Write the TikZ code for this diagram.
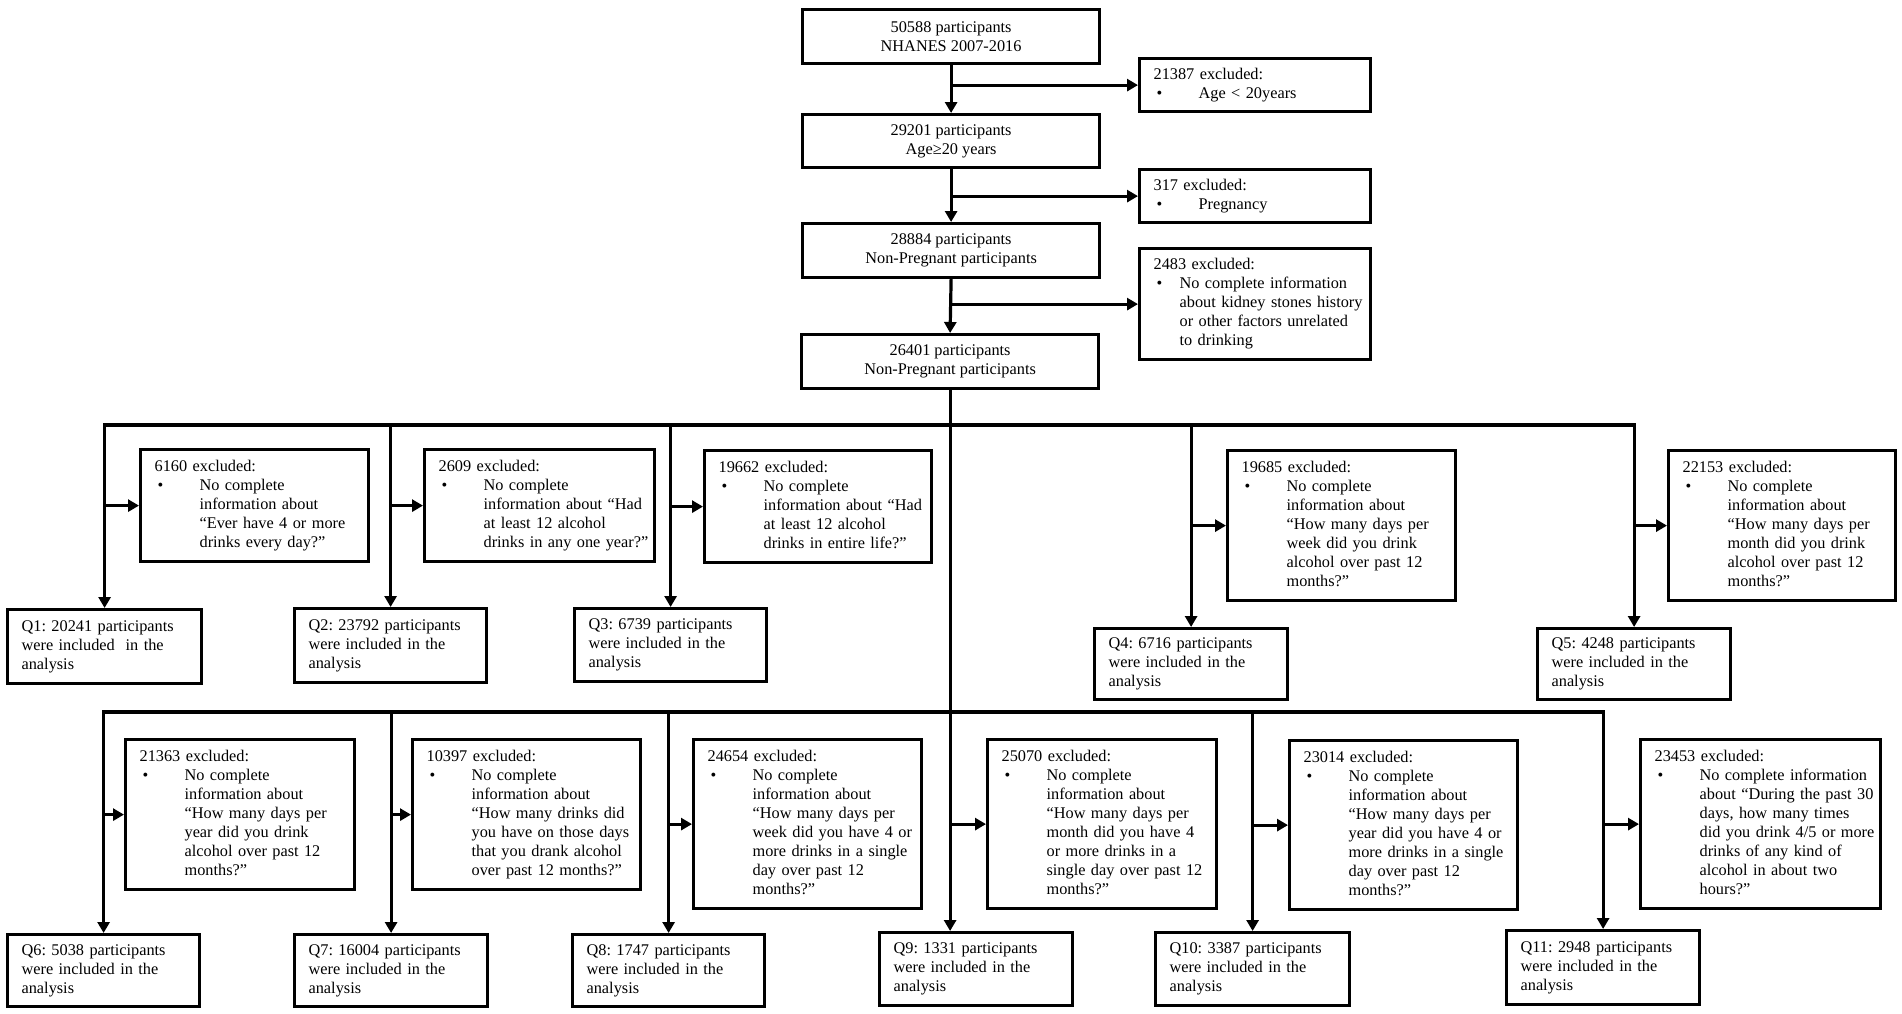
\documentclass[tikz,border=0pt]{standalone}
\usepackage{fontspec}
\setmainfont{Liberation Serif}
\usetikzlibrary{arrows.meta}
\frenchspacing
\newcommand{\exbul}{\hspace*{3pt}\makebox[42pt][l]{•}}
\newcommand{\exind}{\hspace*{45pt}}
\newcommand{\exbulb}{\hspace*{3pt}\makebox[23pt][l]{•}}
\newcommand{\exindb}{\hspace*{26pt}}
\newcommand{\exlines}[1]{\begin{tabular}{@{}l@{}}#1\end{tabular}}
\begin{document}
\frenchspacing
\begin{tikzpicture}[x=1pt,y=-1pt,
  every node/.style={font=\fontsize{16.3}{19}\selectfont\frenchspacing},
  bx/.style={draw, line width=3.2pt, anchor=north west, inner xsep=14pt, inner ysep=0pt, align=left},
  cbx/.style={draw, line width=3.2pt, anchor=north west, inner sep=0pt, align=center},
  ln/.style={line width=3.2pt},
  bus/.style={line width=3.2pt, line cap=rect},
  arr/.style={line width=3.2pt, -{Triangle[length=11pt,width=12pt]}}
]
\useasboundingbox (0,0) rectangle (1902,1013);

% main chain
\node[cbx, minimum width=297pt, minimum height=54pt] (b0) at (801,8) {50588 participants\\NHANES 2007-2016};
\node[cbx, minimum width=297pt, minimum height=53pt] (b1) at (801,113) {29201 participants\\Age≥20 years};
\node[cbx, minimum width=297pt, minimum height=54pt] (b2) at (801,222) {28884 participants\\Non-Pregnant participants};
\node[cbx, minimum width=297pt, minimum height=54pt] (b3) at (800,333) {26401 participants\\Non-Pregnant participants};

\node[bx, text width=203pt, minimum height=53pt] (e1) at (1138,57) {\exlines{21387 excluded:\\\exbul Age < 20years}};
\node[bx, text width=203pt, minimum height=53pt] (e2) at (1138,168) {\exlines{317 excluded:\\\exbul Pregnancy}};
\node[bx, text width=203pt, minimum height=111pt] (e3) at (1138,247) {\exlines{2483 excluded:\\\exbulb No complete information\\\exindb about kidney stones history\\\exindb or other factors unrelated\\\exindb to drinking}};

% row 1 exclusions
\node[bx, text width=200pt, minimum height=112pt] (x1) at (139,448) {\exlines{6160 excluded:\\\exbul No complete\\\exind information about\\\exind “Ever have 4 or more\\\exind drinks every day?”}};
\node[bx, text width=202pt, minimum height=112pt] (x2) at (423,448) {\exlines{2609 excluded:\\\exbul No complete\\\exind information about “Had\\\exind at least 12 alcohol\\\exind drinks in any one year?”}};
\node[bx, text width=199pt, minimum height=112pt] (x3) at (703,449) {\exlines{19662 excluded:\\\exbul No complete\\\exind information about “Had\\\exind at least 12 alcohol\\\exind drinks in entire life?”}};
\node[bx, text width=200pt, minimum height=150pt] (x4) at (1226,449) {\exlines{19685 excluded:\\\exbul No complete\\\exind information about\\\exind “How many days per\\\exind week did you drink\\\exind alcohol over past 12\\\exind months?”}};
\node[bx, text width=199pt, minimum height=150pt] (x5) at (1667,449) {\exlines{22153 excluded:\\\exbul No complete\\\exind information about\\\exind “How many days per\\\exind month did you drink\\\exind alcohol over past 12\\\exind months?”}};

% row 1 results
\node[bx, text width=166pt, minimum height=74pt] (q1) at (6,608) {\exlines{Q1: 20241 participants\\were included\ \ in the\\analysis}};
\node[bx, text width=164pt, minimum height=74pt] (q2) at (293,607) {\exlines{Q2: 23792 participants\\were included in the\\analysis}};
\node[bx, text width=164pt, minimum height=73pt] (q3) at (573,607) {\exlines{Q3: 6739 participants\\were included in the\\analysis}};
\node[bx, text width=165pt, minimum height=71pt] (q4) at (1093,627) {\exlines{Q4: 6716 participants\\were included in the\\analysis}};
\node[bx, text width=165pt, minimum height=71pt] (q5) at (1536,627) {\exlines{Q5: 4248 participants\\were included in the\\analysis}};

% row 2 exclusions
\node[bx, text width=201pt, minimum height=150pt] (y1) at (124,738) {\exlines{21363 excluded:\\\exbul No complete\\\exind information about\\\exind “How many days per\\\exind year did you drink\\\exind alcohol over past 12\\\exind months?”}};
\node[bx, text width=200pt, minimum height=150pt] (y2) at (411,738) {\exlines{10397 excluded:\\\exbul No complete\\\exind information about\\\exind “How many drinks did\\\exind you have on those days\\\exind that you drank alcohol\\\exind over past 12 months?”}};
\node[bx, text width=200pt, minimum height=169pt] (y3) at (692,738) {\exlines{24654 excluded:\\\exbul No complete\\\exind information about\\\exind “How many days per\\\exind week did you have 4 or\\\exind more drinks in a single\\\exind day over past 12\\\exind months?”}};
\node[bx, text width=201pt, minimum height=169pt] (y4) at (986,738) {\exlines{25070 excluded:\\\exbul No complete\\\exind information about\\\exind “How many days per\\\exind month did you have 4\\\exind or more drinks in a\\\exind single day over past 12\\\exind months?”}};
\node[bx, text width=200pt, minimum height=169pt] (y5) at (1288,739) {\exlines{23014 excluded:\\\exbul No complete\\\exind information about\\\exind “How many days per\\\exind year did you have 4 or\\\exind more drinks in a single\\\exind day over past 12\\\exind months?”}};
\node[bx, text width=212pt, minimum height=169pt] (y6) at (1639,738) {\exlines{23453 excluded:\\\exbul No complete information\\\exind about “During the past 30\\\exind days, how many times\\\exind did you drink 4/5 or more\\\exind drinks of any kind of\\\exind alcohol in about two\\\exind hours?”}};

% row 2 results
\node[bx, text width=164pt, minimum height=72pt] (q6) at (6,933) {\exlines{Q6: 5038 participants\\were included in the\\analysis}};
\node[bx, text width=165pt, minimum height=72pt] (q7) at (293,933) {\exlines{Q7: 16004 participants\\were included in the\\analysis}};
\node[bx, text width=164pt, minimum height=72pt] (q8) at (571,933) {\exlines{Q8: 1747 participants\\were included in the\\analysis}};
\node[bx, text width=165pt, minimum height=73pt] (q9) at (878,931) {\exlines{Q9: 1331 participants\\were included in the\\analysis}};
\node[bx, text width=166pt, minimum height=73pt] (q10) at (1154,931) {\exlines{Q10: 3387 participants\\were included in the\\analysis}};
\node[bx, text width=165pt, minimum height=74pt] (q11) at (1505,929) {\exlines{Q11: 2948 participants\\were included in the\\analysis}};

\coordinate (bus1) at (950,425);
\coordinate (bus2) at (950,712);

% main chain connectors
\draw[arr] (b0.south) -- (b1.north);
\draw[arr] (b1.south) -- (b2.north);
\draw[arr] (b2.south) -- (b3.north);
\draw[arr] (b0.south |- e1.west) -- (e1.west);
\draw[arr] (b1.south |- e2.west) -- (e2.west);
\draw[arr] (b2.south |- e3.west) -- (e3.west);
\draw[arr] (b3.south) -- (b3.south |- q9.north);

% bus 1
\draw[bus] (q1.north |- bus1) -- (q5.north |- bus1);
\foreach \q/\x in {q1/x1,q2/x2,q3/x3,q4/x4,q5/x5}{
  \draw[arr] (\q.north |- bus1) -- (\q.north);
  \draw[arr] (\q.north |- \x.west) -- (\x.west);
}

% bus 2
\draw[bus] (q6.north |- bus2) -- (q11.north |- bus2);
\foreach \q/\y in {q6/y1,q7/y2,q8/y3,q10/y5,q11/y6}{
  \draw[arr] (\q.north |- bus2) -- (\q.north);
  \draw[arr] (\q.north |- \y.west) -- (\y.west);
}
\draw[arr] (b3.south |- y4.west) -- (y4.west);
\end{tikzpicture}
\end{document}
